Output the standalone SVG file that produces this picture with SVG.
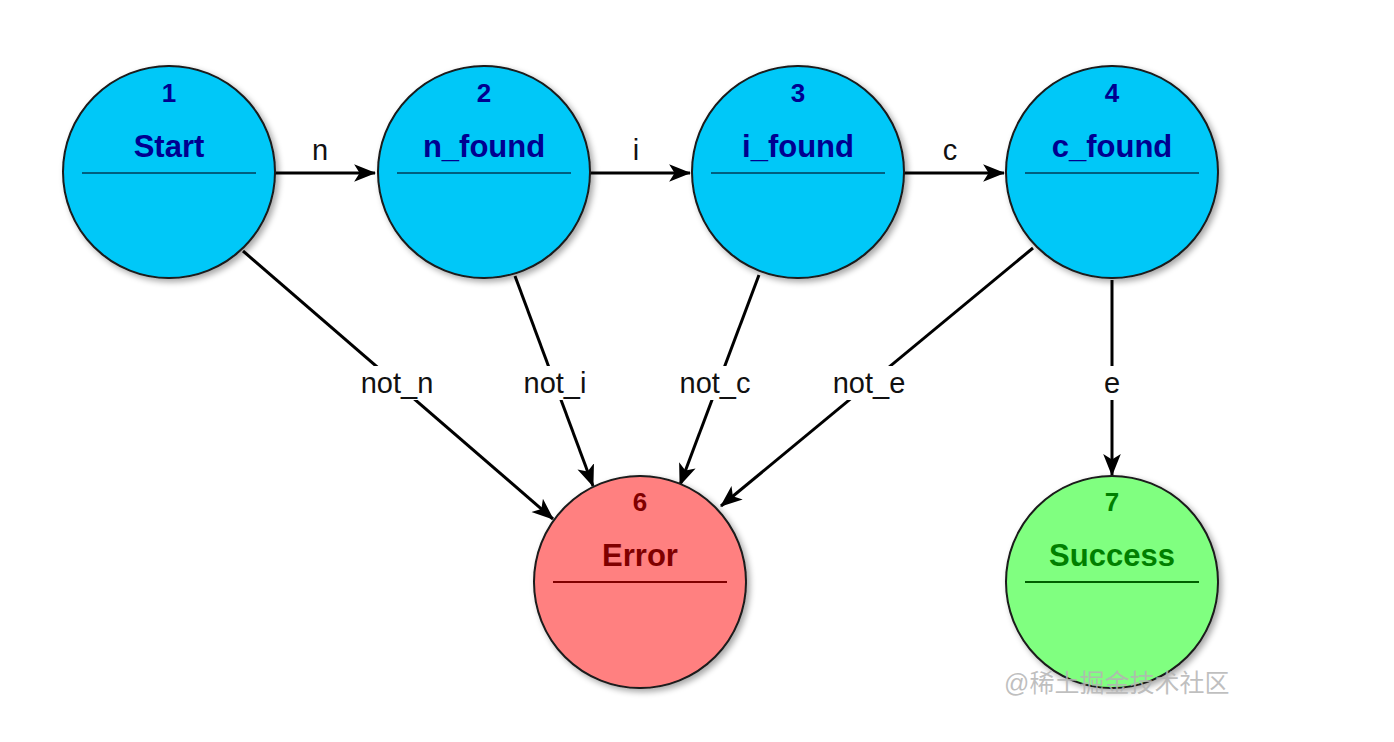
<svg xmlns="http://www.w3.org/2000/svg" width="1394" height="742" viewBox="0 0 1394 742">
<style>
.st{stroke:#1a1a1a;stroke-width:2}
.blue{fill:#00c8f8}
.red{fill:#ff8080}
.green{fill:#80ff80}
.num{font-family:"Liberation Sans",Arial,sans-serif;font-weight:bold;font-size:26px;text-anchor:middle}
.nm{font-family:"Liberation Sans",Arial,sans-serif;font-weight:bold;font-size:31px;text-anchor:middle}
.tb{fill:#000090}
.tr{fill:#800000}
.tg{fill:#008000}
.div{stroke-width:2}
.lbl{font-family:"Liberation Sans",Arial,sans-serif;font-size:29px;text-anchor:middle;fill:#111}
.wm{font-family:"Liberation Sans","Noto Sans CJK SC",sans-serif;font-size:25px;fill:#b4b4b4;fill-opacity:0.85}
</style>
<defs>
<marker id="ahb" viewBox="0 0 20 20" refX="19" refY="10" markerWidth="22" markerHeight="22" orient="auto" markerUnits="userSpaceOnUse">
<path d="M0,2 L20,10 L0,18 L5,10 Z" fill="#000"/>
</marker>
<filter id="sh" x="-20%" y="-20%" width="150%" height="150%">
<feGaussianBlur in="SourceAlpha" stdDeviation="3"/>
<feOffset dx="3" dy="3"/>
<feComponentTransfer><feFuncA type="linear" slope="0.35"/></feComponentTransfer>
<feMerge><feMergeNode/><feMergeNode in="SourceGraphic"/></feMerge>
</filter>
</defs>
<rect width="1394" height="742" fill="#fff"/>
<g id="connectors">
<line x1="275" y1="173" x2="375" y2="173" stroke="#000" stroke-width="3" marker-end="url(#ahb)"/>
<line x1="590" y1="173" x2="690" y2="173" stroke="#000" stroke-width="3" marker-end="url(#ahb)"/>
<line x1="904" y1="173" x2="1004" y2="173" stroke="#000" stroke-width="3" marker-end="url(#ahb)"/>
<line x1="243" y1="251" x2="553" y2="519" stroke="#000" stroke-width="3" marker-end="url(#ahb)"/>
<line x1="515" y1="276" x2="593" y2="486" stroke="#000" stroke-width="3" marker-end="url(#ahb)"/>
<line x1="759" y1="275" x2="680" y2="485" stroke="#000" stroke-width="3" marker-end="url(#ahb)"/>
<line x1="1033" y1="248" x2="721" y2="506" stroke="#000" stroke-width="3" marker-end="url(#ahb)"/>
<line x1="1112" y1="280" x2="1112" y2="475" stroke="#000" stroke-width="3" marker-end="url(#ahb)"/>
<text class="lbl" x="320" y="160">n</text>
<text class="lbl" x="636" y="160">i</text>
<text class="lbl" x="950" y="160">c</text>
<rect x="352" y="366" width="90" height="34" fill="#fff"/>
<text class="lbl" x="397" y="393">not_n</text>
<rect x="516" y="366" width="80" height="34" fill="#fff"/>
<text class="lbl" x="555" y="393">not_i</text>
<rect x="670" y="366" width="90" height="34" fill="#fff"/>
<text class="lbl" x="715" y="393">not_c</text>
<rect x="824" y="366" width="90" height="34" fill="#fff"/>
<text class="lbl" x="869" y="393">not_e</text>
<rect x="1098" y="366" width="28" height="34" fill="#fff"/>
<text class="lbl" x="1112" y="393">e</text>
</g>
<g id="node1">
<circle cx="169" cy="172" r="106" class="blue st" filter="url(#sh)"/>
<text class="num tb" x="169" y="102">1</text>
<text class="nm tb" x="169" y="157">Start</text>
<line x1="82" y1="173" x2="256" y2="173" stroke="#005f80" class="div"/>
</g>
<g id="node2">
<circle cx="484" cy="172" r="106" class="blue st" filter="url(#sh)"/>
<text class="num tb" x="484" y="102">2</text>
<text class="nm tb" x="484" y="157">n_found</text>
<line x1="397" y1="173" x2="571" y2="173" stroke="#005f80" class="div"/>
</g>
<g id="node3">
<circle cx="798" cy="172" r="106" class="blue st" filter="url(#sh)"/>
<text class="num tb" x="798" y="102">3</text>
<text class="nm tb" x="798" y="157">i_found</text>
<line x1="711" y1="173" x2="885" y2="173" stroke="#005f80" class="div"/>
</g>
<g id="node4">
<circle cx="1112" cy="172" r="106" class="blue st" filter="url(#sh)"/>
<text class="num tb" x="1112" y="102">4</text>
<text class="nm tb" x="1112" y="157">c_found</text>
<line x1="1025" y1="173" x2="1199" y2="173" stroke="#005f80" class="div"/>
</g>
<g id="node6">
<circle cx="640" cy="582" r="106" class="red st" filter="url(#sh)"/>
<text class="num tr" x="640" y="511">6</text>
<text class="nm tr" x="640" y="566">Error</text>
<line x1="553" y1="582" x2="727" y2="582" stroke="#800000" class="div"/>
</g>
<g id="node7">
<circle cx="1112" cy="582" r="106" class="green st" filter="url(#sh)"/>
<text class="num tg" x="1112" y="511">7</text>
<text class="nm tg" x="1112" y="566">Success</text>
<line x1="1025" y1="582" x2="1199" y2="582" stroke="#006000" class="div"/>
</g>
<text class="wm" x="1004" y="692">@稀土掘金技术社区</text>
</svg>
